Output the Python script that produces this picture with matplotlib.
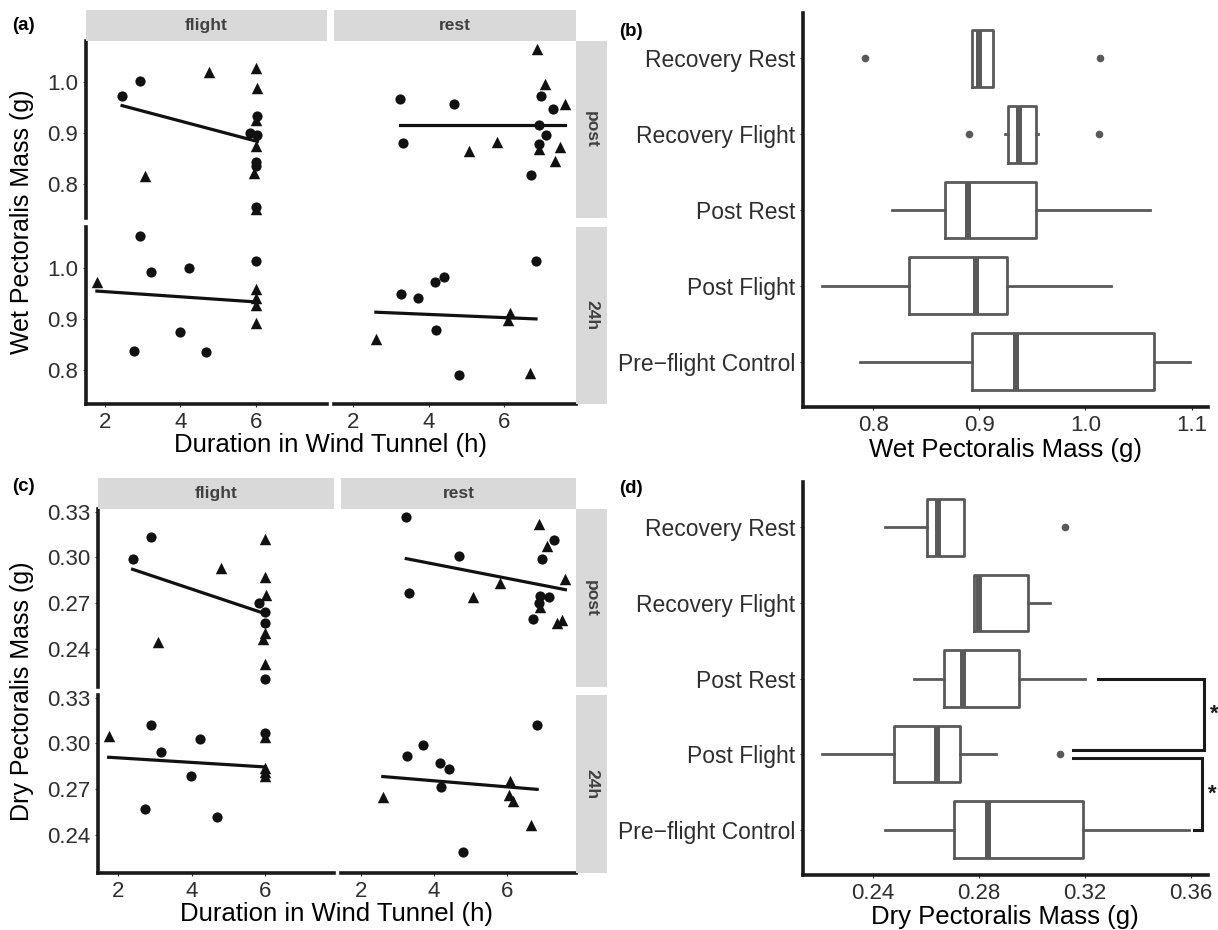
import numpy as np
import matplotlib
matplotlib.use("Agg")
from matplotlib import pyplot as plt

plt.rcParams['font.family'] = ['Liberation Sans', 'DejaVu Sans']

# ---- panel (a): wet mass vs duration, facets (treatment x sampling) ----
# grp 1 = circle, grp 2 = triangle
wet_fp_x = [2.45, 2.92, 3.05, 4.77, 6.0, 6.05, 6.03, 6.0, 5.84, 6.05, 6.0, 6.0, 6.02, 5.97, 6.0, 6.0]
wet_fp_y = [0.972, 1.001, 0.816, 1.018, 1.026, 0.988, 0.933, 0.925, 0.900, 0.896, 0.875, 0.844, 0.836, 0.822, 0.755, 0.751]
wet_fp_g = [1, 1, 2, 2, 2, 2, 1, 2, 1, 1, 2, 1, 1, 2, 1, 2]

wet_f24_x = [1.78, 2.92, 3.22, 4.24, 4.0, 2.76, 4.69, 6.0, 6.0, 6.0, 6.0, 6.0]
wet_f24_y = [0.972, 1.062, 0.992, 0.999, 0.874, 0.838, 0.835, 1.012, 0.959, 0.940, 0.927, 0.892]
wet_f24_g = [2, 1, 1, 1, 1, 1, 1, 1, 2, 2, 2, 2]

wet_rp_x = [3.25, 3.33, 4.68, 5.07, 5.80, 6.88, 7.08, 6.96, 7.61, 7.30, 6.92, 7.11, 6.92, 6.91, 7.47, 7.35, 6.72]
wet_rp_y = [0.965, 0.880, 0.956, 0.864, 0.883, 1.063, 0.996, 0.972, 0.956, 0.947, 0.916, 0.896, 0.879, 0.869, 0.872, 0.846, 0.817]
wet_rp_g = [1, 1, 1, 2, 2, 2, 2, 1, 2, 1, 1, 1, 1, 2, 2, 2, 1]

wet_r24_x = [3.26, 3.71, 4.17, 4.41, 4.18, 2.60, 4.81, 6.84, 6.16, 6.09, 6.67]
wet_r24_y = [0.949, 0.940, 0.971, 0.981, 0.878, 0.860, 0.790, 1.013, 0.912, 0.898, 0.794]
wet_r24_g = [1, 1, 1, 1, 1, 2, 1, 1, 2, 2, 2]

# fitted lines (slope, intercept)
wet_fit = {'fp': (-0.0194, 1.0006), 'f24': (-0.005, 0.963),
           'rp': (0.0, 0.915), 'r24': (-0.0031, 0.921)}

# ---- panel (c): dry mass vs duration ----
dry_fp_x = [2.40, 2.89, 3.10, 4.81, 6.0, 6.0, 6.02, 5.83, 6.0, 6.0, 6.0, 5.95, 6.0, 6.0]
dry_fp_y = [0.299, 0.313, 0.244, 0.293, 0.312, 0.287, 0.275, 0.270, 0.264, 0.257, 0.250, 0.246, 0.230, 0.220]
dry_fp_g = [1, 1, 2, 2, 2, 2, 2, 1, 1, 1, 2, 2, 2, 1]

dry_f24_x = [1.75, 2.90, 3.18, 4.23, 3.99, 2.74, 4.68, 6.0, 6.0, 6.0, 6.0, 6.0]
dry_f24_y = [0.305, 0.312, 0.294, 0.3026, 0.2786, 0.2566, 0.2518, 0.3064, 0.304, 0.2835, 0.281, 0.2786]
dry_f24_g = [2, 1, 1, 1, 1, 1, 1, 1, 2, 2, 2, 2]

dry_rp_x = [3.24, 3.32, 4.67, 5.05, 5.80, 6.86, 7.27, 7.07, 6.93, 7.58, 6.90, 7.12, 6.87, 6.90, 6.70, 7.34, 7.48]
dry_rp_y = [0.3264, 0.2763, 0.301, 0.2736, 0.283, 0.322, 0.3115, 0.3077, 0.299, 0.2858, 0.2747, 0.2736, 0.270, 0.267, 0.2594, 0.257, 0.259]
dry_rp_g = [1, 1, 1, 2, 2, 2, 1, 2, 1, 2, 1, 1, 1, 2, 1, 2, 2]

dry_r24_x = [3.25, 3.71, 4.17, 4.41, 4.19, 2.60, 4.80, 6.81, 6.07, 6.05, 6.16, 6.63]
dry_r24_y = [0.2913, 0.299, 0.2871, 0.2831, 0.2711, 0.2647, 0.2283, 0.3118, 0.2754, 0.2657, 0.2619, 0.246]
dry_r24_g = [1, 1, 1, 1, 1, 2, 1, 1, 2, 2, 2, 2]

dry_fit = {'fp': (-0.0081, 0.3115), 'f24': (-0.0015, 0.2934),
           'rp': (-0.0047, 0.3143), 'r24': (-0.002, 0.2833)}

# ---- panels (b), (d): boxplots, bottom to top ----
groups = ["Pre\u2212flight Control", "Post Flight", "Post Rest", "Recovery Flight", "Recovery Rest"]

wet_q1 = [0.893, 0.834, 0.868, 0.927, 0.893]
wet_med = [0.935, 0.897, 0.889, 0.937, 0.900]
wet_q3 = [1.065, 0.926, 0.953, 0.953, 0.913]
wet_lo = [0.788, 0.752, 0.818, 0.924, 0.893]
wet_hi = [1.098, 1.024, 1.061, 0.955, 0.913]
wet_out = [[], [], [], [0.890, 1.013], [0.792, 1.014]]

dry_q1 = [0.2707, 0.248, 0.2668, 0.2783, 0.2605]
dry_med = [0.2835, 0.2643, 0.274, 0.2802, 0.2646]
dry_q3 = [0.3193, 0.2729, 0.2953, 0.2985, 0.2744]
dry_lo = [0.2448, 0.221, 0.2557, 0.2783, 0.2448]
dry_hi = [0.3593, 0.2864, 0.3202, 0.3069, 0.2744]
dry_out = [[], [0.3107], [], [], [0.3125]]

# significance brackets in (d): rows, start x top, start x bottom, vertical x
brk_rows = [(2, 1), (1, 0)]
brk_x_top = [0.3249, 0.3154]
brk_x_bot = [0.3154, 0.3612]
brk_x_vert = [0.3651, 0.3644]

W, H = 1218, 930
fig = plt.figure(figsize=(W / 100, H / 100), dpi=100)

INK = '#1a1a1a'
TXT = '#2e2e2e'
BOXC = '#595959'


def rect(l, t, r, b):
    return [l / W, 1 - b / H, (r - l) / W, (b - t) / H]


def strip(l, t, r, b, label, rot=0):
    ax = fig.add_axes(rect(l, t, r, b))
    ax.set_facecolor('#d9d9d9')
    for s in ax.spines.values():
        s.set_visible(False)
    ax.set_xticks([])
    ax.set_yticks([])
    ax.text(0.5, 0.5, label, ha='center', va='center', rotation=rot,
            fontsize=12.5, fontweight='bold', color='#404040', transform=ax.transAxes)


def facet(pos, xs, ys, gs, fit, xlim, ylim, left, bottom, yticks, ylabels):
    ax = fig.add_axes(rect(*pos))
    xs = np.array(xs)
    ys = np.array(ys)
    gs = np.array(gs)
    for g, m, s in ((1, 'o', 54), (2, '^', 68)):
        sel = gs == g
        ax.scatter(xs[sel], ys[sel], marker=m, s=s, color='#111111', linewidths=0, zorder=3)
    xx = np.array([xs.min(), xs.max()])
    ax.plot(xx, fit[0] * xx + fit[1], color='#111111', lw=2.3, zorder=2)
    ax.set_xlim(*xlim)
    ax.set_ylim(*ylim)
    for s in ('top', 'right'):
        ax.spines[s].set_visible(False)
    ax.spines['left'].set_visible(left)
    ax.spines['bottom'].set_visible(bottom)
    for s in ('left', 'bottom'):
        ax.spines[s].set_linewidth(2.6)
        ax.spines[s].set_color(INK)
    ax.tick_params(length=2.5, width=0.8, color=TXT, labelsize=16, labelcolor=TXT, pad=3)
    if left:
        ax.set_yticks(yticks)
        ax.set_yticklabels(ylabels)
    else:
        ax.set_yticks([])
    if bottom:
        ax.set_xticks([2, 4, 6])
    else:
        ax.set_xticks([])
    return ax


# ---------- (a) ----------
xl_a = (1.49, 7.9)
yl_a = (0.734, 1.079)
yt_a = [0.8, 0.9, 1.0]
yl_lab_a = ['0.8', '0.9', '1.0']
facet((86, 41, 327, 218), wet_fp_x, wet_fp_y, wet_fp_g, wet_fit['fp'], xl_a, yl_a, True, False, yt_a, yl_lab_a)
facet((86, 227, 327, 404), wet_f24_x, wet_f24_y, wet_f24_g, wet_fit['f24'], xl_a, yl_a, True, True, yt_a, yl_lab_a)
facet((334, 41, 576, 218), wet_rp_x, wet_rp_y, wet_rp_g, wet_fit['rp'], xl_a, yl_a, False, False, yt_a, yl_lab_a)
facet((334, 227, 576, 404), wet_r24_x, wet_r24_y, wet_r24_g, wet_fit['r24'], xl_a, yl_a, False, True, yt_a, yl_lab_a)
strip(86, 10, 327, 41, 'flight')
strip(334, 10, 576, 41, 'rest')
strip(576, 41, 607, 218, 'post', -90)
strip(576, 227, 607, 404, '24h', -90)
fig.text(331 / W, 1 - 445 / H, 'Duration in Wind Tunnel (h)', ha='center', va='center', fontsize=18.5)
fig.text(22 / W, 1 - 222 / H, 'Wet Pectoralis Mass (g)', ha='center', va='center', fontsize=18, rotation=90)

# ---------- (c) ----------
xl_c = (1.46, 7.87)
yl_c = (0.2147, 0.3317)
yt_c = [0.24, 0.27, 0.30, 0.33]
yl_lab_c = ['0.24', '0.27', '0.30', '0.33']
facet((98, 509, 334, 687), dry_fp_x, dry_fp_y, dry_fp_g, dry_fit['fp'], xl_c, yl_c, True, False, yt_c, yl_lab_c)
facet((98, 695, 334, 873), dry_f24_x, dry_f24_y, dry_f24_g, dry_fit['f24'], xl_c, yl_c, True, True, yt_c, yl_lab_c)
facet((341, 509, 576, 687), dry_rp_x, dry_rp_y, dry_rp_g, dry_fit['rp'], xl_c, yl_c, False, False, yt_c, yl_lab_c)
facet((341, 695, 576, 873), dry_r24_x, dry_r24_y, dry_r24_g, dry_fit['r24'], xl_c, yl_c, False, True, yt_c, yl_lab_c)
strip(98, 478, 334, 509, 'flight')
strip(341, 478, 576, 509, 'rest')
strip(576, 509, 607, 687, 'post', -90)
strip(576, 695, 607, 873, '24h', -90)
fig.text(337 / W, 1 - 914 / H, 'Duration in Wind Tunnel (h)', ha='center', va='center', fontsize=18.5)
fig.text(22 / W, 1 - 691 / H, 'Dry Pectoralis Mass (g)', ha='center', va='center', fontsize=18, rotation=90)


# ---------- boxplots ----------
def boxpanel(pos, q1, med, q3, lo, hi, out, xlim, xticks, xlabels):
    ax = fig.add_axes(rect(*pos))
    stats = []
    for i in range(len(groups)):
        stats.append(dict(q1=q1[i], med=med[i], q3=q3[i], whislo=lo[i], whishi=hi[i], fliers=out[i]))
    ax.bxp(stats, positions=range(len(groups)), widths=0.75, vert=False, showcaps=False,
           boxprops=dict(color=BOXC, linewidth=2.0),
           whiskerprops=dict(color=BOXC, linewidth=2.0),
           medianprops=dict(color=BOXC, linewidth=4.3, solid_capstyle='butt'),
           flierprops=dict(marker='o', markerfacecolor=BOXC, markeredgecolor=BOXC, markersize=4.5))
    ax.set_xlim(*xlim)
    ax.set_ylim(-0.6, len(groups) - 0.4)
    ax.set_yticks(range(len(groups)))
    ax.set_yticklabels(groups, fontsize=16.5)
    ax.set_xticks(xticks)
    ax.set_xticklabels(xlabels, fontsize=16)
    for s in ('top', 'right'):
        ax.spines[s].set_visible(False)
    for s in ('left', 'bottom'):
        ax.spines[s].set_linewidth(2.6)
        ax.spines[s].set_color(INK)
    ax.tick_params(length=2.5, width=0.8, color=TXT, labelcolor=TXT, pad=3)
    return ax


boxpanel((803, 13, 1208, 407), wet_q1, wet_med, wet_q3, wet_lo, wet_hi, wet_out,
         (0.734, 1.1154), [0.8, 0.9, 1.0, 1.1], ['0.8', '0.9', '1.0', '1.1'])
fig.text(1005 / W, 1 - 450 / H, 'Wet Pectoralis Mass (g)', ha='center', va='center', fontsize=18.5)

axd = boxpanel((803, 482, 1208, 875), dry_q1, dry_med, dry_q3, dry_lo, dry_hi, dry_out,
               (0.2137, 0.3665), [0.24, 0.28, 0.32, 0.36], ['0.24', '0.28', '0.32', '0.36'])
fig.text(1005 / W, 1 - 917 / H, 'Dry Pectoralis Mass (g)', ha='center', va='center', fontsize=18.5)

offs = [(0.0, 0.05), (-0.05, 0.0)]
for (r_top, r_bot), xt, xb, xv, (dt, db) in zip(brk_rows, brk_x_top, brk_x_bot, brk_x_vert, offs):
    yt = r_top + dt
    yb = r_bot + db
    axd.plot([xt, xv, xv, xb], [yt, yt, yb, yb], color=INK, lw=2.2, clip_on=False,
             solid_joinstyle='miter')
    axd.text(xv + 0.0022, (yt + yb) / 2, '*', ha='left', va='center', fontsize=16,
             fontweight='bold', color=INK, clip_on=False)

# panel letters
for lab, x, y in (('(a)', 12, 25), ('(b)', 619, 31), ('(c)', 12, 486), ('(d)', 619, 488)):
    fig.text(x / W, 1 - y / H, lab, ha='left', va='center', fontsize=13.5, fontweight='bold')

fig.savefig('out.png', dpi=100)
